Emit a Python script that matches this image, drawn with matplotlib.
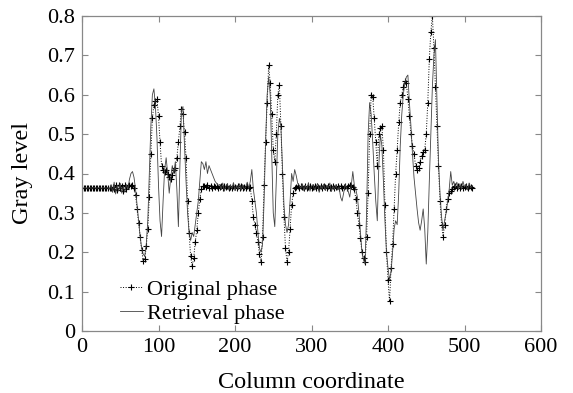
import numpy as np
import matplotlib
matplotlib.use("Agg")
import matplotlib.pyplot as plt

plt.rcParams['font.family'] = ['Liberation Serif', 'DejaVu Serif']

columns = np.arange(0, 512, 2)

original_phase = (
    # 0-38
    [0.363, 0.364, 0.363, 0.363, 0.364, 0.363, 0.363, 0.364, 0.363, 0.363,
     0.364, 0.363, 0.363, 0.364, 0.363, 0.363, 0.364, 0.363, 0.363, 0.364]
    # 40-58
    + [0.365, 0.360, 0.370, 0.358, 0.372, 0.362, 0.368, 0.356, 0.371, 0.360]
    # 60-158
    + [0.368, 0.372, 0.368, 0.370, 0.362, 0.345, 0.31, 0.275, 0.24, 0.205,
       0.178, 0.182, 0.215, 0.26, 0.34, 0.45, 0.54, 0.575, 0.585, 0.59,
       0.545, 0.48, 0.42, 0.41, 0.405, 0.41, 0.40, 0.39, 0.387, 0.395,
       0.41, 0.415, 0.44, 0.48, 0.52, 0.565, 0.55, 0.505, 0.44, 0.33,
       0.25, 0.19, 0.165, 0.185, 0.225, 0.256, 0.30, 0.335, 0.36, 0.368]
    # 160-218
    + [0.368, 0.365, 0.370, 0.364, 0.368, 0.362, 0.367, 0.365, 0.369, 0.363,
       0.366, 0.368, 0.362, 0.367, 0.365, 0.369, 0.364, 0.366, 0.363, 0.368,
       0.365, 0.362, 0.367, 0.364, 0.369, 0.363, 0.366, 0.364, 0.368, 0.362]
    # 220-278
    + [0.365, 0.33, 0.29, 0.27, 0.25, 0.225, 0.195, 0.175, 0.24, 0.37,
       0.48, 0.58, 0.675, 0.63, 0.55, 0.46, 0.43, 0.50, 0.60, 0.625,
       0.52, 0.40, 0.29, 0.21, 0.175, 0.20, 0.26, 0.32, 0.35, 0.362]
    # 280-354
    + [0.366, 0.369, 0.363, 0.367, 0.365, 0.362, 0.368, 0.364, 0.366, 0.369,
       0.363, 0.365, 0.368, 0.362, 0.366, 0.364, 0.369, 0.363, 0.367, 0.365,
       0.362, 0.368, 0.364, 0.366, 0.369, 0.363, 0.365, 0.367, 0.362, 0.368,
       0.364, 0.366, 0.369, 0.363, 0.367, 0.371, 0.368, 0.366]
    # 356-486
    + [0.36, 0.335, 0.30, 0.27, 0.235, 0.20, 0.185, 0.175, 0.24, 0.35,
       0.50, 0.60, 0.595, 0.54, 0.48, 0.42, 0.50, 0.515, 0.52, 0.46,
       0.32, 0.20, 0.13, 0.075, 0.16, 0.22, 0.31, 0.40, 0.46, 0.53,
       0.58, 0.60, 0.62, 0.635, 0.63, 0.59, 0.545, 0.50, 0.47, 0.45,
       0.42, 0.41, 0.415, 0.43, 0.445, 0.455, 0.46, 0.50, 0.58, 0.69,
       0.76, 0.80, 0.72, 0.62, 0.52, 0.42, 0.33, 0.27, 0.24, 0.27,
       0.31, 0.335, 0.35, 0.355, 0.36, 0.365]
    # 488-510
    + [0.368, 0.362, 0.367, 0.364, 0.369, 0.363, 0.366, 0.368, 0.362, 0.367, 0.365, 0.364]
)

retrieval_phase = (
    # 0-34
    [0.363, 0.363, 0.364, 0.363, 0.363, 0.364, 0.363, 0.363, 0.364,
     0.363, 0.363, 0.364, 0.363, 0.363, 0.364, 0.363, 0.363, 0.364]
    # 36-58
    + [0.360, 0.372, 0.352, 0.378, 0.348, 0.370, 0.355, 0.375, 0.350, 0.368, 0.352, 0.372]
    # 60-178
    + [0.36, 0.385, 0.40, 0.405, 0.39, 0.36, 0.32, 0.28, 0.24, 0.21,
       0.195, 0.19, 0.22, 0.28, 0.40, 0.52, 0.60, 0.615, 0.57, 0.49,
       0.37, 0.28, 0.24, 0.33, 0.41, 0.44, 0.40, 0.35, 0.39, 0.42,
       0.40, 0.43, 0.36, 0.265, 0.42, 0.56, 0.57, 0.47, 0.38, 0.30,
       0.25, 0.23, 0.25, 0.24, 0.27, 0.30, 0.33, 0.38, 0.43, 0.425,
       0.41, 0.43, 0.40, 0.42, 0.41, 0.40, 0.39, 0.38, 0.375, 0.37]
    # 180-218
    + [0.372, 0.360, 0.376, 0.355, 0.368, 0.374, 0.358, 0.370, 0.362, 0.377,
       0.356, 0.369, 0.361, 0.374, 0.357, 0.372, 0.360, 0.366, 0.378, 0.362]
    # 220-284
    + [0.38, 0.41, 0.36, 0.33, 0.30, 0.25, 0.21, 0.20, 0.22, 0.33,
       0.48, 0.60, 0.645, 0.60, 0.45, 0.30, 0.265, 0.38, 0.50, 0.54,
       0.52, 0.42, 0.32, 0.27, 0.25, 0.27, 0.33, 0.40, 0.38, 0.41,
       0.395, 0.375, 0.37]
    # 286-348
    + [0.362, 0.374, 0.356, 0.370, 0.360, 0.377, 0.355, 0.368, 0.372, 0.358,
       0.366, 0.375, 0.352, 0.369, 0.361, 0.373, 0.357, 0.370, 0.363, 0.376,
       0.354, 0.368, 0.360, 0.372, 0.358, 0.366, 0.34, 0.33, 0.35, 0.372,
       0.362, 0.355]
    # 350-486
    + [0.34, 0.37, 0.405, 0.37, 0.36, 0.34, 0.30, 0.25, 0.20, 0.18,
       0.17, 0.30, 0.50, 0.58, 0.55, 0.48, 0.40, 0.33, 0.28, 0.42,
       0.50, 0.47, 0.38, 0.28, 0.20, 0.16, 0.13, 0.15, 0.20, 0.26,
       0.28, 0.27, 0.35, 0.47, 0.55, 0.60, 0.63, 0.645, 0.65, 0.58,
       0.52, 0.45, 0.39, 0.35, 0.31, 0.275, 0.256, 0.28, 0.31, 0.26,
       0.17, 0.25, 0.38, 0.50, 0.62, 0.70, 0.74, 0.58, 0.43, 0.35,
       0.29, 0.256, 0.28, 0.30, 0.33, 0.36, 0.405, 0.37, 0.38]
    # 488-510
    + [0.365, 0.378, 0.360, 0.374, 0.362, 0.380, 0.366, 0.372, 0.358, 0.376, 0.364, 0.368]
)

x_ticks = [0, 100, 200, 300, 400, 500, 600]
y_ticks = [0, 0.1, 0.2, 0.3, 0.4, 0.5, 0.6, 0.7, 0.8]
y_tick_labels = ["0", "0.1", "0.2", "0.3", "0.4", "0.5", "0.6", "0.7", "0.8"]

fig = plt.figure(figsize=(5.73, 3.93), dpi=100)
ax = fig.add_axes([82/573, 1-331/393, 459/573, 315/393])

ax.plot(columns[:len(original_phase)], original_phase, color='black', linestyle=':',
        linewidth=0.7, marker='+', markersize=4, markeredgewidth=0.8,
        label='Original phase')
ax.plot(columns[:len(retrieval_phase)], retrieval_phase, color='#444444', linestyle='-',
        linewidth=0.6, label='Retrieval phase')

ax.set_xlim(0, 600)
ax.set_ylim(0, 0.8)
ax.set_xticks(x_ticks)
ax.set_yticks(y_ticks)
ax.set_yticklabels(y_tick_labels)
ax.tick_params(direction='in', top=True, right=True, length=4, width=0.8,
               color='#888888', labelsize=16, pad=5)
for s in ax.spines.values():
    s.set_color('#888888')
    s.set_linewidth(0.9)

ax.set_xlabel('Column coordinate', fontsize=17.5, labelpad=11)
ax.set_ylabel('Gray level', fontsize=17.5, labelpad=10)

leg = ax.legend(loc='lower left', bbox_to_anchor=(0.04, -0.04), frameon=False,
                fontsize=16, handlelength=1.0, handletextpad=0.2, labelspacing=0.15)

fig.savefig('out.png', dpi=100)
